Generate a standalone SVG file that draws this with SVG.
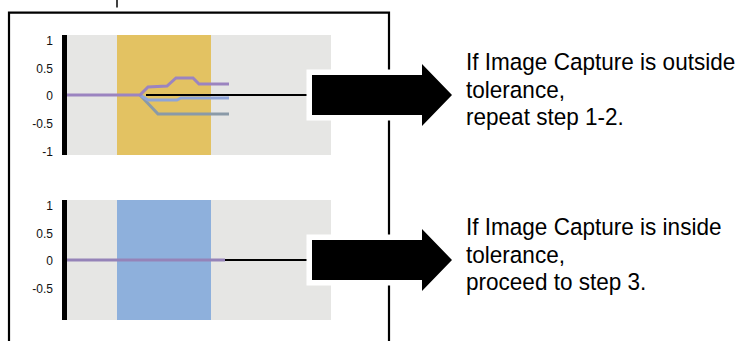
<svg xmlns="http://www.w3.org/2000/svg" width="748" height="341" viewBox="0 0 748 341">
<style>
.lbl{font-family:"Liberation Sans",Arial,sans-serif;font-size:12px;fill:#111;text-anchor:end}
.txt{font-family:"Liberation Sans",Arial,sans-serif;font-size:24.5px;fill:#000}
.plot{fill:#e6e6e4}
.axis{fill:#000}
.arrow{fill:#000;stroke:#fff;stroke-width:11;stroke-linejoin:miter;paint-order:stroke}
.s{fill:none;stroke-width:3;stroke-linejoin:miter}
</style>
<rect width="748" height="341" fill="#fff"/>
<g id="frame">
<line x1="117" y1="0" x2="117" y2="7.5" stroke="#000" stroke-width="1.5"/>
<path d="M9,341 V12.7 H389 V341" fill="none" stroke="#000" stroke-width="2.2"/>
</g>
<g id="chart-outside">
<rect class="plot" x="62" y="35" width="269" height="120"/>
<rect x="117" y="35" width="94" height="120" fill="#e3c262"/>
<rect class="axis" x="62" y="35" width="5" height="120"/>
<text class="lbl" x="53" y="45">1</text>
<text class="lbl" x="53" y="73">0.5</text>
<text class="lbl" x="53" y="100">0</text>
<text class="lbl" x="53" y="128">-0.5</text>
<text class="lbl" x="53" y="156">-1</text>
<line x1="146" y1="95" x2="308" y2="95" stroke="#000" stroke-width="2"/>
<polyline class="s" stroke="#8a9aa8" points="140,95 158,114 229,114"/>
<polyline class="s" stroke="#8ea4d8" points="140,95 148,100 177,100 181,98 229,98"/>
<polyline class="s" stroke="#9b84c0" points="67,95 140,95 148,87 167,86 176,78 193,78 199,84 229,84"/>
</g>
<g id="chart-inside">
<rect class="plot" x="62" y="200" width="269" height="120"/>
<rect x="117" y="200" width="94" height="120" fill="#8eb0dc"/>
<rect class="axis" x="62" y="200" width="5" height="120"/>
<text class="lbl" x="53" y="210">1</text>
<text class="lbl" x="53" y="238">0.5</text>
<text class="lbl" x="53" y="265">0</text>
<text class="lbl" x="53" y="293">-0.5</text>
<line x1="220" y1="260" x2="308" y2="260" stroke="#000" stroke-width="2"/>
<line x1="67" y1="260" x2="225" y2="260" stroke="#9583b8" stroke-width="3"/>
</g>
<g id="connectors">
<polygon class="arrow" points="312,75 422,75 422,64 452,95 422,126 422,115 312,115"/>
<polygon class="arrow" points="312,240 422,240 422,229 452,260 422,291 422,280 312,280"/>
</g>
<g id="text-outside" transform="translate(466,0) scale(0.92,1)">
<text class="txt" x="0" y="70">If Image Capture is outside</text>
<text class="txt" x="0" y="98">tolerance,</text>
<text class="txt" x="0" y="125">repeat step 1-2.</text>
</g>
<g id="text-inside" transform="translate(466,0) scale(0.92,1)">
<text class="txt" x="0" y="235">If Image Capture is inside</text>
<text class="txt" x="0" y="263">tolerance,</text>
<text class="txt" x="0" y="290">proceed to step 3.</text>
</g>
</svg>
